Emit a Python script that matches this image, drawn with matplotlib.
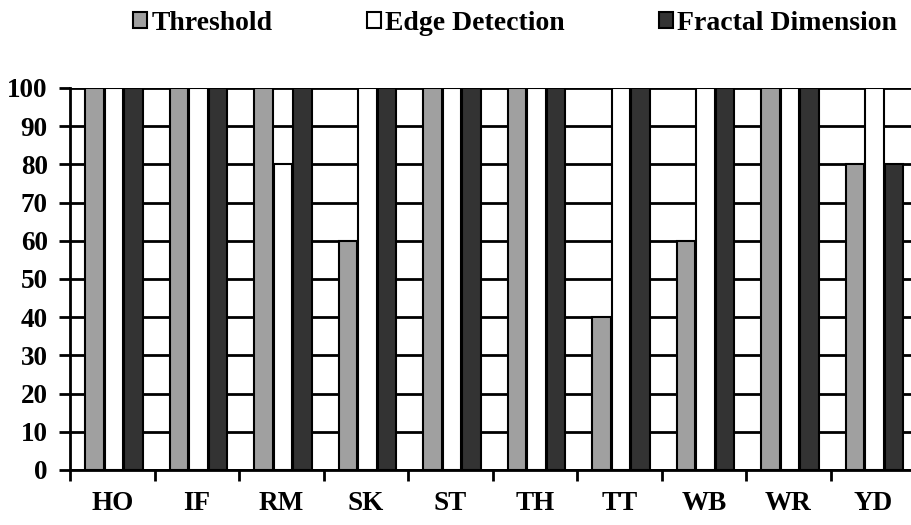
import numpy as np
import matplotlib as mpl
mpl.use("Agg")
import matplotlib.pyplot as plt

mpl.rc("font", family="Liberation Serif", weight="bold", size=19.5)

categories = ["HO", "IF", "RM", "SK", "ST", "TH", "TT", "WB", "WR", "YD"]
threshold = [100, 100, 100, 60, 100, 100, 40, 60, 100, 80]
edge_detection = [100, 100, 80, 100, 100, 100, 100, 100, 100, 100]
fractal_dimension = [100, 100, 100, 100, 100, 100, 100, 100, 100, 80]

series = [
	("Threshold", threshold, "#a0a0a0"),
	("Edge Detection", edge_detection, "#ffffff"),
	("Fractal Dimension", fractal_dimension, "#333333"),
]

fig = plt.figure(figsize=(9.12, 5.25), dpi=100, facecolor="white")
ax = fig.add_axes([0.0768, 0.1048, 0.9265, 0.7276])

x = np.arange(len(categories))
width = 0.22
for k, (name, vals, col) in enumerate(series):
	ax.bar(x + 0.02 + (k - 1) * 0.23, vals, width, color=col, edgecolor="black",
		   linewidth=1.5, label=name, zorder=3)

ax.set_xlim(-0.5, len(categories) - 0.5)
ax.set_ylim(0, 100)
ax.set_yticks(range(0, 101, 10))
ax.yaxis.grid(True, color="black", linewidth=2, zorder=0)
ax.set_axisbelow(True)

ax.set_xticks(x)
ax.set_xticklabels(categories)
ax.set_xticks(np.arange(len(categories) + 1) - 0.5, minor=True)
ax.tick_params(axis="x", which="major", length=0, pad=15)
ax.tick_params(axis="x", which="minor", length=8, width=2, direction="out")
ax.tick_params(axis="y", length=8, width=2, direction="out", pad=8)

for s in ["top", "right"]:
	ax.spines[s].set_visible(False)
for s in ["left", "bottom"]:
	ax.spines[s].set_linewidth(2)

fig.legend(loc="center", bbox_to_anchor=(0.565, 0.955), ncol=3, frameon=False,
		   handlelength=0.5, handleheight=0.5, handletextpad=0.15,
		   columnspacing=3.4, fontsize=20)

fig.savefig("out.png", dpi=100)
